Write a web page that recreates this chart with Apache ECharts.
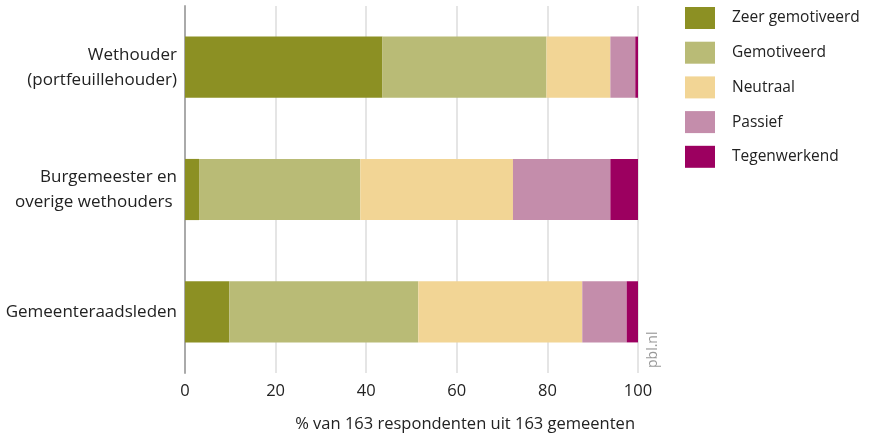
<!DOCTYPE html>
<html><head><meta charset="utf-8">
<script src="https://cdn.jsdelivr.net/npm/echarts@6/dist/echarts.min.js"></script>
<style>html,body{margin:0;padding:0;background:#fff}#c{width:873px;height:438px}</style>
</head><body><div id="c"></div>
<script>
const categories = ['Wethouder\n(portfeuillehouder)', 'Burgemeester en\noverige wethouders ', 'Gemeenteraadsleden'];
const seriesNames = ['Zeer gemotiveerd', 'Gemotiveerd', 'Neutraal', 'Passief', 'Tegenwerkend'];
const zeerGemotiveerd = [43.6, 3.1, 9.8];
const gemotiveerd = [36.2, 35.6, 41.7];
const neutraal = [14.1, 33.7, 36.2];
const passief = [5.5, 21.5, 9.8];
const tegenwerkend = [0.6, 6.1, 2.5];
const xTicks = [0, 20, 40, 60, 80, 100];
const colors = ['#8c9023', '#b9bb76', '#f2d595', '#c48dab', '#9c0060'];
const values = [zeerGemotiveerd, gemotiveerd, neutraal, passief, tegenwerkend];
const font = 'Open Sans';
const chart = echarts.init(document.getElementById('c'));
chart.setOption({
  animation: false,
  textStyle: {fontFamily: font},
  grid: {left: 185, right: 235, top: 6, bottom: 65, containLabel: false},
  legend: {
    orient: 'vertical', left: 685, top: 7, itemWidth: 30, itemHeight: 22, itemGap: 12.7, padding: 0,
    icon: 'rect', textStyle: {fontSize: 15.5, color: '#222', fontFamily: font, padding: [0,0,0,12]},
    data: seriesNames
  },
  xAxis: {
    type: 'value', min: xTicks[0], max: xTicks[xTicks.length-1], interval: 20,
    axisLine: {show: false}, axisTick: {show: false},
    splitLine: {lineStyle: {color: '#dcdcdc', width: 1.5}},
    axisLabel: {fontSize: 16.5, color: '#222', margin: 10, fontFamily: font}
  },
  yAxis: {
    type: 'category', data: categories, inverse: true,
    axisLine: {lineStyle: {color: '#aaa', width: 2}}, axisTick: {show: false},
    axisLabel: {fontSize: 17, color: '#222', margin: 8, lineHeight: 25, align: 'right', fontFamily: font, padding: [4,0,0,0]}
  },
  title: {
    text: '% van 163 respondenten uit 163 gemeenten', right: 233, top: 411,
    textStyle: {fontSize: 16.5, fontWeight: 'normal', color: '#222', fontFamily: font}
  },
  graphic: [{
    type: 'text', x: 660, y: 368, rotation: Math.PI/2,
    style: {text: 'pbl.nl', fontSize: 14, fill: '#999', fontFamily: font, verticalAlign: 'bottom', align: 'left'}
  }],
  series: seriesNames.map((n, i) => ({
    name: n, type: 'bar', stack: 'total', barWidth: '50%', data: values[i],
    itemStyle: {color: colors[i]}
  }))
});
</script></body></html>
